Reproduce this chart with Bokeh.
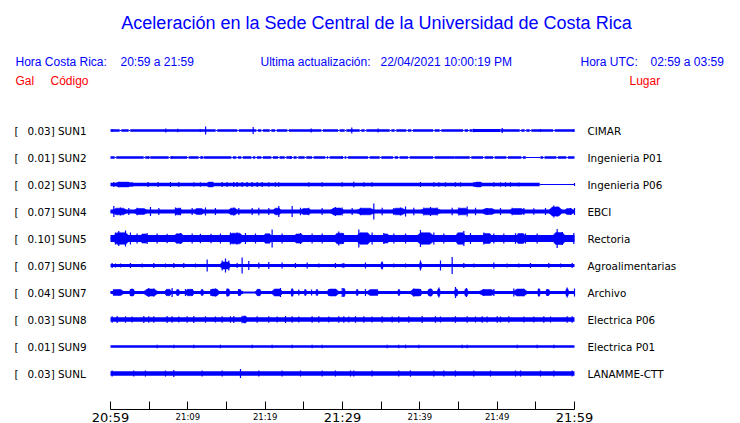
from bokeh.plotting import figure
from bokeh.models import Range1d, LinearAxis, FixedTicker, Label, ColumnDataSource
from bokeh.core.properties import value
from bokeh.embed import file_html
from bokeh.resources import INLINE

# ---------------- data ----------------
codes = ["SUN1", "SUN2", "SUN3", "SUN4", "SUN5", "SUN6", "SUN7", "SUN8", "SUN9", "SUNL"]
gal = [0.03, 0.01, 0.02, 0.07, 0.10, 0.07, 0.04, 0.03, 0.01, 0.03]
places = ["CIMAR", "Ingenieria P01", "Ingenieria P06", "EBCI", "Rectoria",
          "Agroalimentarias", "Archivo", "Electrica P06", "Electrica P01", "LANAMME-CTT"]

tick_minutes = [0, 5, 10, 15, 20, 25, 30, 35, 40, 45, 50, 55, 60]
big_tick_minutes = [0, 30, 60]
big_tick_labels = ["20:59", "21:29", "21:59"]
small_tick_minutes = [10, 20, 40, 50]
small_tick_labels = ["21:09", "21:19", "21:39", "21:49"]

# trace envelopes (minutes from 20:59, half amplitude in trace units)
core_SUN1 = [[0, 46.8, 1.3], [46.8, 50.4, 1.6], [50.4, 60, 1.3]]
gaps_SUN1 = [1.29, 2.45, 13.7, 16.5, 18.96, 19.61, 20.69, 21.4, 22.97, 27.37, 29.52,
             30.39, 32.33, 32.97, 36.21, 36.85, 38.36, 39.01, 41.81, 42.67, 45.69, 46.33,
             53.02, 53.66, 54.31, 57.33]
burst_SUN1 = []
spk_t_SUN1 = [0.2, 7.15, 8.7, 11.6, 12.3, 18.45, 25.95, 31.2, 34.6, 47.0, 50.65, 55.6, 59.9]
spk_a_SUN1 = [1.6, 2.0, 1.7, 1.6, 4.0, 3.5, 2.0, 3.0, 2.0, 1.8, 2.6, 1.6, 1.6]

core_SUN2 = [[0, 53.7, 1.25], [53.7, 55.6, 0.5], [55.6, 60, 1.25]]
gaps_SUN2 = [0.64, 4.39, 5.04, 7.63, 10.0, 11.5, 11.94, 15.73, 16.38, 17.02, 18.32, 18.83,
             19.61, 20.9, 21.76, 22.63, 23.57, 24.18, 25.21, 26.16, 27.88, 28.23,
             30.17, 30.6, 33.4, 34.91, 36.64, 37.28, 38.58, 41.81, 44.4, 46.55, 48.27,
             49.57, 51.29, 53.23, 56.03, 57.76, 59.05]
burst_SUN2 = []
spk_t_SUN2 = [4.95, 7.97, 11.85, 23.27, 29.96, 44.4]
spk_a_SUN2 = [1.6, 1.6, 1.5, 1.5, 1.5, 1.6]

core_SUN3 = [[0, 55.5, 1.7], [55.5, 60, 0.5]]
gaps_SUN3 = []
burst_SUN3 = [[0.2, 3.2, 2.4], [12.3, 13.6, 2.4], [46.8, 48.3, 2.4]]
spk_t_SUN3 = [0.43, 1.07, 1.94, 2.8, 4.87, 6.16, 7.76, 8.83, 10.77, 11.63, 14.44, 15.08, 15.94,
              16.38, 17.02, 17.67, 18.32, 18.96, 19.61, 20.47, 21.33, 21.76, 25.64, 27.37, 29.96,
              31.46, 32.76, 33.83, 40.08, 41.81, 42.46, 43.32, 44.61, 45.26, 47.0, 47.6, 49.57,
              50.43, 51.08, 51.72, 52.8, 60.0]
spk_a_SUN3 = [2.6, 2.8, 2.6, 2.5, 2.6, 2.5, 2.6, 2.5, 2.2, 2.2, 2.5, 2.5, 2.5,
              2.5, 2.5, 2.5, 2.5, 2.5, 2.5, 2.2, 2.2, 2.2, 2.2, 2.2, 2.2,
              2.8, 2.3, 2.3, 2.6, 2.3, 2.3, 2.3, 2.3, 2.3, 2.6, 2.6, 2.3,
              2.3, 2.3, 2.3, 2.1, 1.5]

core_SUN4 = [[0, 60, 2.0]]
gaps_SUN4 = []
burst_SUN4 = [[0, 2.4, 3.3], [2.8, 5.0, 3.0], [8.2, 9.3, 3.3], [10.6, 12.3, 3.0], [15.1, 16.6, 3.3],
              [20.9, 22.2, 3.3], [24.4, 26.1, 3.0], [28.2, 30.4, 3.5], [31.5, 34.5, 3.3],
              [36.2, 38.4, 3.3], [39.7, 43.1, 3.3], [44.6, 46.5, 3.3], [47.8, 50.0, 3.0],
              [51.3, 53.9, 3.0], [56.5, 58.6, 4.5], [58.6, 60, 3.0]]
spk_t_SUN4 = [0.43, 1.29, 2.37, 3.44, 5.17, 6.25, 8.4, 9.05, 10.56, 12.28, 13.57, 15.94, 16.59,
              18.32, 19.18, 20.47, 21.76, 23.49, 24.57, 25.64, 27.37, 29.09, 29.95,
              31.25, 32.33, 34.05, 35.13, 36.64, 37.5, 38.15, 39.22, 40.52, 41.38, 42.24, 44.18,
              45.04, 46.12, 47.2, 48.71, 50.43, 51.94, 53.45, 54.74, 56.25, 57.33, 57.76, 59.48, 60.0]
spk_a_SUN4 = [5.5, 4.0, 3.5, 3.8, 4.5, 3.5, 4.0, 3.8, 3.5, 4.0, 3.5, 4.0, 3.5,
              3.5, 3.8, 3.5, 5.5, 5.5, 3.8, 3.8, 3.5, 4.5, 4.0,
              3.5, 3.8, 8.0, 3.8, 3.5, 4.0, 5.0, 3.8, 4.0, 4.5, 4.0, 3.8,
              4.0, 5.0, 3.8, 3.5, 3.5, 3.8, 3.5, 3.2, 3.5, 6.0, 5.0, 3.5, 3.5]

core_SUN5 = [[0, 60, 3.6]]
gaps_SUN5 = []
burst_SUN5 = [[0, 2.8, 5.8], [3.7, 5.0, 4.6], [8.0, 9.7, 4.8], [14.9, 17.5, 5.3], [19.6, 21.0, 4.8],
              [23.5, 25.2, 4.6], [28.7, 30.6, 5.3], [31.5, 34.0, 5.8], [35.0, 36.2, 4.6],
              [39.2, 42.2, 5.8], [44.4, 46.1, 5.8], [47.8, 49.6, 5.0], [52.2, 53.9, 5.0],
              [56.9, 59.1, 6.0]]
spk_t_SUN5 = [0.64, 1.07, 1.94, 2.58, 3.44, 4.74, 6.03, 7.32, 9.05, 10.56, 11.63, 13.0, 14.22,
              15.51, 16.38, 17.45, 18.75, 20.9, 22.19, 24.57, 26.07, 27.37, 29.52, 30.08, 32.11,
              33.83, 35.34, 36.64, 38.15, 40.08, 41.81, 43.1, 45.69, 46.55, 48.27, 49.57, 50.86,
              52.37, 53.66, 55.17, 57.76, 58.41, 59.91]
spk_a_SUN5 = [6.0, 7.5, 8.0, 6.0, 5.0, 5.5, 5.0, 4.8, 5.5, 5.0, 4.8, 4.8, 5.0,
              6.0, 6.0, 5.5, 5.0, 9.0, 5.0, 5.5, 5.0, 5.0, 7.0, 5.5, 9.0,
              6.0, 5.5, 5.0, 5.0, 8.5, 6.0, 5.0, 7.5, 5.5, 6.0, 5.0, 5.0,
              5.2, 5.0, 5.0, 9.5, 6.5, 5.5]

core_SUN6 = [[0, 60, 1.6]]
gaps_SUN6 = []
burst_SUN6 = [[14.0, 15.7, 3.5], [34.9, 35.3, 3.0], [39.9, 40.3, 3.0]]
spk_t_SUN6 = [0.21, 0.64, 1.29, 2.58, 4.09, 5.6, 7.11, 8.19, 9.48, 10.99, 12.5, 14.44, 14.87,
              15.3, 16.38, 17.02, 17.88, 19.18, 20.47, 22.19, 23.92, 25.43, 26.94, 29.09, 29.95,
              30.17, 32.97, 35.13, 36.64, 38.15, 40.08, 42.67, 44.18, 45.69, 47.0, 49.57, 51.29,
              52.8, 54.31, 56.68, 58.19, 59.7]
spk_a_SUN6 = [2.5, 2.0, 2.0, 2.5, 2.0, 2.5, 2.0, 2.5, 2.5, 2.0, 6.0, 5.0, 7.0,
              5.0, 2.5, 8.0, 4.5, 3.0, 3.5, 3.0, 2.5, 3.0, 2.0, 2.5, 2.0,
              2.5, 3.0, 4.0, 2.0, 2.0, 5.0, 5.0, 8.5, 2.5, 2.0, 3.0, 2.0,
              2.0, 2.5, 2.5, 2.0, 2.5]

core_SUN7 = [[0, 17.2, 1.5], [17.2, 18.75, 1.0], [18.75, 60, 1.5]]
gaps_SUN7 = []
burst_SUN7 = [[0, 1.9, 3.0], [2.4, 3.2, 3.5], [4.1, 6.3, 3.5], [6.9, 8.0, 3.2], [8.4, 9.0, 3.0],
              [9.5, 11.0, 3.2], [11.6, 12.1, 3.0], [12.7, 14.2, 3.5], [14.9, 15.5, 3.5],
              [16.4, 17.0, 3.0], [18.7, 19.6, 3.2], [20.7, 22.4, 3.5], [23.3, 23.7, 3.5],
              [25.0, 25.4, 3.0], [26.5, 26.9, 3.0], [27.8, 29.7, 3.5], [30.0, 30.4, 3.5],
              [31.7, 32.1, 3.0], [33.0, 34.9, 3.0], [37.1, 37.5, 3.0], [38.6, 40.5, 3.5],
              [40.9, 41.8, 3.5], [42.2, 42.7, 3.5], [44.4, 45.0, 3.5], [45.7, 46.3, 3.5],
              [47.4, 50.0, 3.0], [51.9, 54.1, 3.5], [55.2, 55.6, 3.5], [56.2, 56.9, 3.0],
              [58.8, 59.3, 3.5]]
spk_t_SUN7 = [0.43, 1.07, 2.58, 4.95, 5.6, 7.97, 9.69, 10.56, 13.0, 13.57, 15.08, 16.59, 19.18,
              21.98, 23.49, 24.35, 26.0, 28.23, 29.09, 29.96, 30.17, 32.97, 34.48, 39.22, 40.08,
              41.38, 42.46, 44.61, 46.03, 48.27, 49.57, 52.15, 53.45, 55.39, 56.46, 59.05, 60.0]
spk_a_SUN7 = [3.5, 3.0, 3.5, 4.5, 4.0, 4.5, 3.5, 3.5, 3.5, 4.0, 4.0, 3.5, 3.5,
              4.5, 4.0, 3.0, 3.0, 3.5, 3.5, 4.5, 4.5, 3.5, 3.5, 4.0, 3.5,
              3.8, 5.0, 5.5, 4.5, 3.5, 3.5, 4.0, 3.8, 4.0, 3.5, 5.0, 4.0]

core_SUN8 = [[0, 60, 2.3]]
gaps_SUN8 = []
burst_SUN8 = [[17.0, 17.7, 3.5]]
spk_t_SUN8 = [0.21, 0.86, 1.94, 2.80, 4.31, 4.95, 5.6, 7.32, 7.97, 8.83, 9.91, 10.77, 12.28,
              13.57, 14.44, 15.51, 15.94, 17.02, 17.45, 18.96, 20.47, 21.55, 22.63, 23.49, 24.35,
              26.07, 26.94, 28.23, 29.52, 30.17, 30.82, 31.68, 32.76, 33.83, 35.13, 36.42, 37.28,
              38.58, 40.30, 42.02, 42.67, 44.61, 46.12, 47.2, 48.06, 48.71, 50.0, 50.43, 51.51,
              53.45, 54.74, 56.03, 56.9, 59.05, 59.7]
spk_a_SUN8 = [3.3, 3.5, 3.3, 3.0, 3.5, 3.3, 3.3, 3.6, 3.3, 3.0, 3.3, 3.5, 3.3,
              3.0, 3.3, 3.3, 3.5, 3.8, 3.5, 3.3, 3.3, 3.0, 3.5, 3.3, 3.0,
              3.3, 3.3, 3.0, 3.3, 3.3, 3.0, 3.3, 3.3, 3.0, 3.3, 3.0, 3.3,
              3.3, 3.5, 3.3, 3.0, 3.3, 3.3, 3.0, 3.3, 3.0, 3.3, 3.0, 3.3,
              3.0, 3.0, 3.3, 3.0, 3.3, 3.3]

core_SUN9 = [[0, 60, 1.35]]
gaps_SUN9 = []
burst_SUN9 = []
spk_t_SUN9 = [6.03, 8.19, 10.77, 14.22, 18.32, 20.9, 23.49, 26.07, 27.37,
              35.77, 37.28, 38.15, 39.87, 45.47, 46.12, 52.59, 55.17, 57.33]
spk_a_SUN9 = [1.8, 1.8, 1.8, 1.8, 1.8, 1.8, 1.8, 1.8, 1.8,
              1.8, 1.8, 1.8, 1.8, 1.8, 1.8, 1.8, 1.8, 1.8]

core_SUNL = [[0, 60, 2.2]]
gaps_SUNL = []
burst_SUNL = []
spk_t_SUNL = [0.21, 3.01, 4.52, 7.11, 8.19, 11.85, 14.44, 16.81, 19.18, 22.19, 24.57, 27.37, 29.09,
              31.03, 31.46, 33.83, 37.28, 38.79, 41.81, 43.10, 44.61, 46.98, 49.14, 52.37, 53.02,
              55.6, 57.33, 59.7]
spk_a_SUNL = [3.0, 3.0, 3.0, 3.0, 3.5, 3.0, 3.0, 4.5, 3.0, 3.0, 3.0, 3.0, 3.0,
              3.0, 3.0, 3.0, 3.0, 3.2, 3.0, 3.0, 3.0, 3.0, 3.0, 3.0, 3.0,
              3.0, 3.0, 3.0]

cores = [core_SUN1, core_SUN2, core_SUN3, core_SUN4, core_SUN5,
         core_SUN6, core_SUN7, core_SUN8, core_SUN9, core_SUNL]
gaps = [gaps_SUN1, gaps_SUN2, gaps_SUN3, gaps_SUN4, gaps_SUN5,
        gaps_SUN6, gaps_SUN7, gaps_SUN8, gaps_SUN9, gaps_SUNL]
bursts = [burst_SUN1, burst_SUN2, burst_SUN3, burst_SUN4, burst_SUN5,
          burst_SUN6, burst_SUN7, burst_SUN8, burst_SUN9, burst_SUNL]
spk_ts = [spk_t_SUN1, spk_t_SUN2, spk_t_SUN3, spk_t_SUN4, spk_t_SUN5,
          spk_t_SUN6, spk_t_SUN7, spk_t_SUN8, spk_t_SUN9, spk_t_SUNL]
spk_as = [spk_a_SUN1, spk_a_SUN2, spk_a_SUN3, spk_a_SUN4, spk_a_SUN5,
          spk_a_SUN6, spk_a_SUN7, spk_a_SUN8, spk_a_SUN9, spk_a_SUNL]

# ---------------- layout helpers ----------------
W, H = 740, 423
PX_PER_MIN = 464 / 60.0
X0_PX = 110
ROW0_PX = 130
ROW_PX = 27
AMP = 1.0 / ROW_PX
GAP_W = 0.2
GAP_HALF = 0.5


def X(px):
    return (px - X0_PX) / PX_PER_MIN


def Y(py):
    return -(py - ROW0_PX) / ROW_PX


BLUE = "#0000ff"
RED = "#ff0000"

p = figure(width=W, height=H,
           x_range=Range1d(X(0), X(W)), y_range=Range1d(Y(H), Y(0)),
           output_backend="svg", toolbar_location=None,
           x_axis_location=None, y_axis_location=None,
           min_border_left=0, min_border_right=0, min_border_top=0, min_border_bottom=0,
           outline_line_color=None, background_fill_color="white", border_fill_color="white")
p.grid.visible = False

# ---------------- traces ----------------
ql, qr, qb, qt = [], [], [], []


def add_quad(a, b, c, h):
    ql.append(a); qr.append(b); qb.append(c - h * AMP); qt.append(c + h * AMP)


for i, (core, gl) in enumerate(zip(cores, gaps)):
    c = -i
    for t0, t1, h in core:
        pos = t0
        for g in sorted(x for x in gl if t0 < x < t1):
            add_quad(pos, g - GAP_W / 2, c, h)
            add_quad(g - GAP_W / 2, g + GAP_W / 2, c, GAP_HALF)
            pos = g + GAP_W / 2
        add_quad(pos, t1, c, h)
p.quad(left=ql, right=qr, bottom=qb, top=qt, fill_color=BLUE, line_color=None)

bx, by = [], []
for i, bl in enumerate(bursts):
    c = -i
    for t0, t1, h in bl:
        d = (t1 - t0) * 0.3
        bx.append([t0, t0 + d, t1 - d, t1, t1 - d, t0 + d])
        by.append([c, c + h * AMP, c + h * AMP, c, c - h * AMP, c - h * AMP])
p.patches(xs=bx, ys=by, fill_color=BLUE, line_color=BLUE, line_width=0.5)

sx, sy0, sy1 = [], [], []
for i, (ts, as_) in enumerate(zip(spk_ts, spk_as)):
    c = -i
    for t, a in zip(ts, as_):
        sx.append(t); sy0.append(c - a * AMP); sy1.append(c + a * AMP)
p.segment(x0=sx, y0=sy0, x1=sx, y1=sy1, line_color=BLUE, line_width=1.2)

# ---------------- row labels ----------------
rows = list(range(len(codes)))
lab_src = ColumnDataSource(dict(
    y=[-r for r in rows],
    bracket=["[" for _ in rows],
    left=[f"{g:.2f}] {c}" for g, c in zip(gal, codes)],
    right=places,
    xb=[X(14) for _ in rows],
    xl=[X(27) for _ in rows],
    xr=[X(587) for _ in rows],
))
common = dict(text_font=value("DejaVu Sans"), text_font_size="10.4px", text_color="black",
              text_baseline="middle", text_align="left", source=lab_src)
p.text(x="xb", y="y", text="bracket", **common)
p.text(x="xl", y="y", text="left", **common)
p.text(x="xr", y="y", text="right", **common)

# ---------------- header texts ----------------
def add_label(px, py, text, size, color, font="Liberation Sans", align="left"):
    p.add_layout(Label(x=X(px), y=Y(py), text=text, text_font=font, text_font_size=size,
                       text_color=color, text_align=align, text_baseline="middle"))


add_label(376, 22, "Aceleración en la Sede Central de la Universidad de Costa Rica", "18px", BLUE,
          align="center")
add_label(15, 61, "Hora Costa Rica:", "12px", BLUE)
add_label(120, 61, "20:59 a 21:59", "12px", BLUE)
add_label(260, 61, "Ultima actualización:", "12px", BLUE)
add_label(380, 61, "22/04/2021 10:00:19 PM", "12px", BLUE)
add_label(580, 61, "Hora UTC:", "12px", BLUE)
add_label(650, 61, "02:59 a 03:59", "12px", BLUE)
add_label(15, 80, "Gal", "12px", RED)
add_label(50, 80, "Código", "12px", RED)
add_label(629, 80, "Lugar", "12px", RED)

# ---------------- time axis ----------------
overrides = {m: "" for m in tick_minutes}
for m, t in zip(big_tick_minutes, big_tick_labels):
    overrides[m] = t
ax = LinearAxis(ticker=FixedTicker(ticks=tick_minutes), bounds=(0, 60),
                fixed_location=Y(409),
                major_label_overrides=overrides,
                major_tick_in=8, major_tick_out=0, minor_tick_line_color=None,
                major_label_standoff=0,
                major_label_text_font="DejaVu Sans", major_label_text_font_size="13px",
                major_label_text_color="black",
                axis_line_color="black", major_tick_line_color="black")
p.add_layout(ax, "below")

small_src = ColumnDataSource(dict(x=small_tick_minutes, y=[Y(416) for _ in small_tick_minutes],
                                  text=small_tick_labels))
p.text(x="x", y="y", text="text", source=small_src, text_font=value("DejaVu Sans"),
       text_font_size="8.5px", text_color="black", text_align="center", text_baseline="middle")

open("out.html", "w").write(file_html(p, INLINE))
